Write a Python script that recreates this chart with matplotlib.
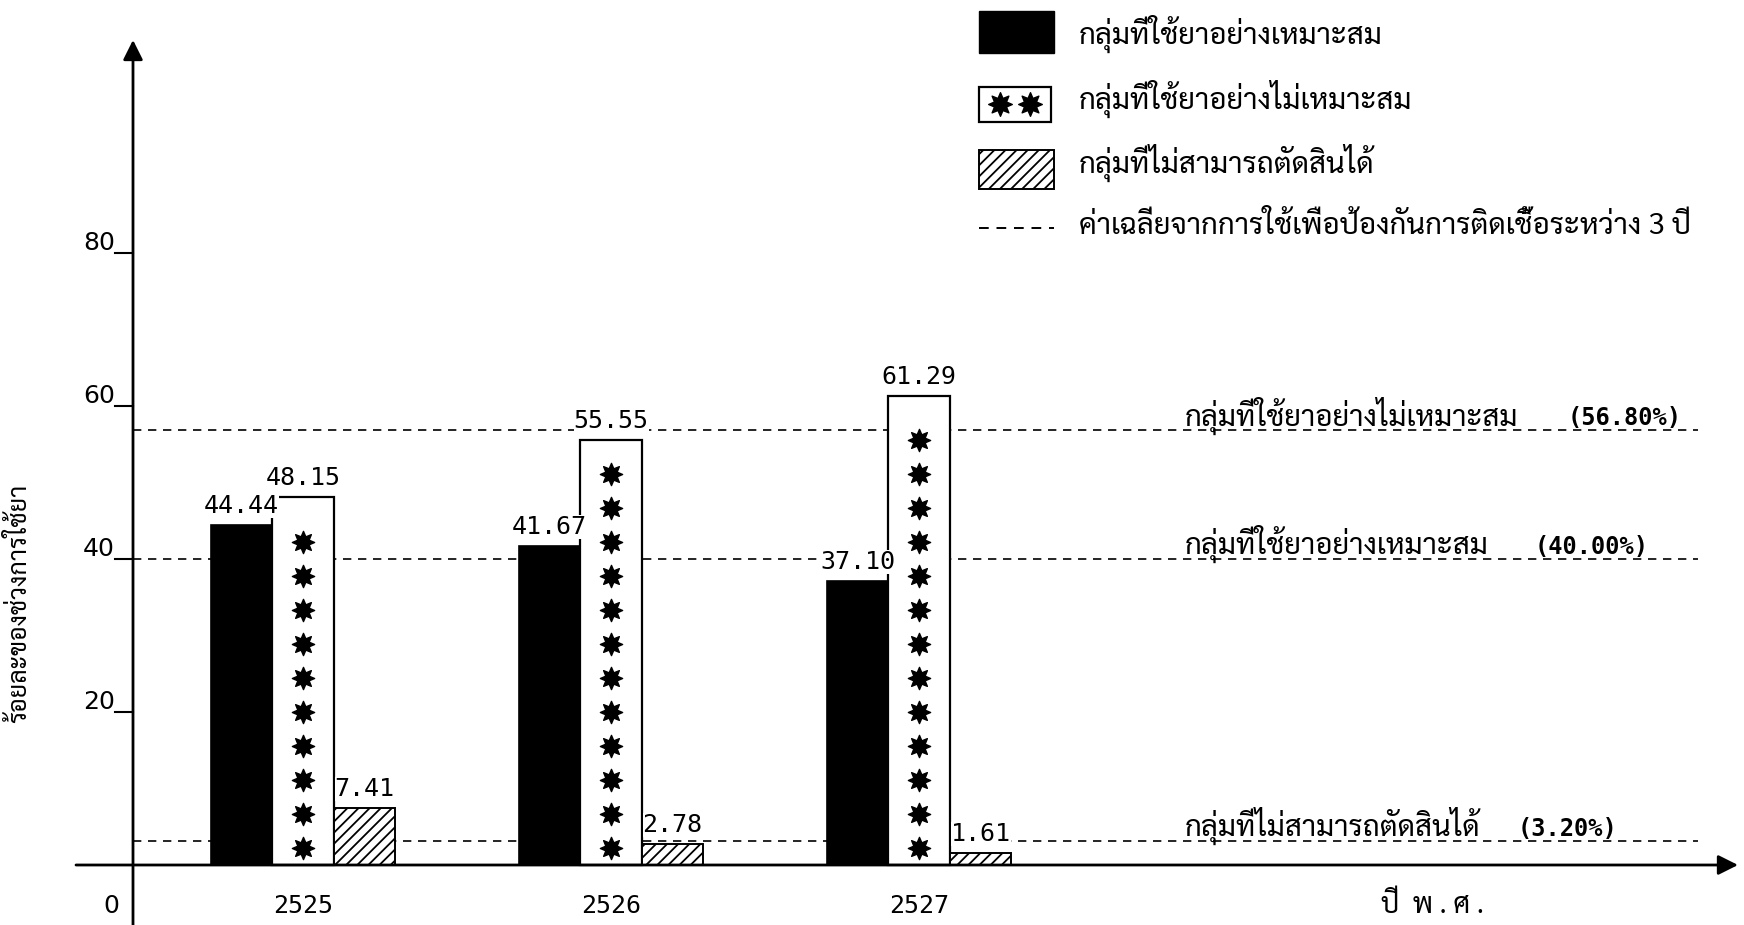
import numpy as np
import matplotlib
matplotlib.use("Agg")
import matplotlib.pyplot as plt
from matplotlib import font_manager
from matplotlib.patches import Rectangle
from matplotlib.lines import Line2D
from matplotlib.path import Path

# data
years = ["2525", "2526", "2527"]
proper = [44.44, 41.67, 37.10]          # กลุ่มที่ใช้ยาอย่างเหมาะสม
improper = [48.15, 55.55, 61.29]        # กลุ่มที่ใช้ยาอย่างไม่เหมาะสม
undecided = [7.41, 2.78, 1.61]          # กลุ่มที่ไม่สามารถตัดสินได้
avg_values = [56.80, 40.00, 3.20]
avg_names = ["กลุ่มที่ใช้ยาอย่างไม่เหมาะสม", "กลุ่มที่ใช้ยาอย่างเหมาะสม", "กลุ่มที่ไม่สามารถตัดสินได้"]
legend_names = ["กลุ่มที่ใช้ยาอย่างเหมาะสม", "กลุ่มที่ใช้ยาอย่างไม่เหมาะสม",
                "กลุ่มที่ไม่สามารถตัดสินได้", "ค่าเฉลี่ยจากการใช้เพื่อป้องกันการติดเชื้อระหว่าง 3 ปี"]
yticks = [20, 40, 60, 80]

# pick a font with Thai glyphs, looped typewriter-ish ones first
names = {f.name for f in font_manager.fontManager.ttflist}
thai = "DejaVu Sans"
for cand in ["Sarabun", "Niramit", "K2D", "Krub", "Thasadith",
             "Noto Sans Thai Looped", "Noto Sans Thai", "Athiti"]:
    if cand in names:
        thai = cand
        break
mono = "DejaVu Sans Mono"

plt.rcParams["hatch.linewidth"] = 1.3

W, H = 1744, 925
fig = plt.figure(figsize=(W / 100, H / 100), dpi=100)
ax = fig.add_axes([0, 0, 1, 1])
ax.axis("off")

# scale the Thai font so the first legend entry is as wide as in the scan
renderer = fig.canvas.get_renderer()
probe = fig.text(0, 0, legend_names[0], fontsize=10, family=thai)
thai_size = min(24, 10 * 306 / probe.get_window_extent(renderer).width)
probe.remove()

# pixel layout: group i centred at x = 303 + 308 i, y = 865 - 7.65 v
gx, g0 = 308.0, 303.0
vy, y0 = 7.65, 865.0
ax.set_xlim(-g0 / gx, (W - g0) / gx)
ax.set_ylim(-(H - y0) / vy, y0 / vy)


def fx(px):
    return px / W


def fy(py):
    return 1 - py / H


# 8 point star like the typewriter asterisks
n = 8
ang = np.linspace(0, 2 * np.pi, 2 * n, endpoint=False) + np.pi / 2
rad = np.where(np.arange(2 * n) % 2 == 0, 1.0, 0.55)
verts = np.column_stack([rad * np.cos(ang), rad * np.sin(ang)])
star = Path(np.vstack([verts, verts[:1]]), closed=True)

x = np.arange(len(years))
w = 0.2
yaxis_x = (133 - g0) / gx
line_end = (1698 - g0) / gx

# average dashed lines
for v in avg_values:
    ax.plot([yaxis_x, line_end], [v, v], color="black", lw=1.2,
            ls=(0, (5, 4)), zorder=1)

ax.bar(x - w, proper, w, color="black", edgecolor="black", lw=1.2, zorder=3)
ax.bar(x, improper, w, color="white", edgecolor="black", lw=1.6, zorder=3)
ax.bar(x + w, undecided, w, color="white", edgecolor="black", lw=1.4,
       hatch="///", zorder=3)

# stars inside the improper bars
for xi, top in zip(x, improper):
    sy = np.arange(2.2, top - 1.5, 4.45)
    ax.plot(np.full(len(sy), xi), sy, ls="none", marker=star,
            ms=16, color="black", zorder=4)

# value labels
for xs, vals in [(x - w, proper), (x, improper), (x + w, undecided)]:
    for xi, v in zip(xs, vals):
        ax.annotate(f"{v:.2f}", (xi, v), xytext=(0, 5), textcoords="offset points",
                    ha="center", va="bottom", fontsize=18, family=mono,
                    color="black", zorder=5,
                    bbox=dict(facecolor="white", edgecolor="none", pad=0))

# axes with arrows
xl = (76 - g0) / gx
xr = (1738 - g0) / gx
ax.annotate("", xy=(xr, 0), xytext=(xl, 0),
            arrowprops=dict(arrowstyle="-|>", lw=2, color="black",
                            mutation_scale=30, shrinkA=0, shrinkB=0))
ytop = (y0 - 40) / vy
ax.annotate("", xy=(yaxis_x, ytop), xytext=(yaxis_x, -(H - y0) / vy),
            arrowprops=dict(arrowstyle="-|>", lw=2, color="black",
                            mutation_scale=30, shrinkA=0, shrinkB=0))

# y ticks drawn like the original: short dash left of the axis
tick_l = (115 - g0) / gx
for t in yticks:
    ax.plot([tick_l, yaxis_x], [t, t], color="black", lw=1.5)
    ax.text(tick_l, t + 0.4, str(t), ha="right", va="baseline", fontsize=18,
            family="DejaVu Sans")
ax.text(fx(111), fy(906), "0", transform=fig.transFigure, ha="center",
        va="center", fontsize=18, family="DejaVu Sans")

for xi, yr in zip(x, years):
    ax.text(xi, -5.3, yr, ha="center", va="center", fontsize=18, family=mono)

# labels on the right of the average lines
pct_x = [1568, 1535, 1518]
for v, nm, px in zip(avg_values, avg_names, pct_x):
    base = fy(y0 - v * vy - 5)
    ax.text(fx(1185), base, nm, transform=fig.transFigure,
            ha="left", va="baseline", fontsize=thai_size, family=thai)
    ax.text(fx(px), base, f"({v:.2f}%)", transform=fig.transFigure,
            ha="left", va="baseline", fontsize=17, family=mono, weight="bold")

ax.text(fx(1432), fy(906), "ปี  พ . ศ .", transform=fig.transFigure, ha="center",
        va="center", fontsize=thai_size * 0.95, family=thai)
ax.text(fx(20), fy(603), "ร้อยละของช่วงการใช้ยา", transform=fig.transFigure,
        ha="center", va="center", rotation=90, fontsize=thai_size * 0.85, family=thai)

# legend, drawn by hand to follow the original layout
tf = fig.transFigure
fig.patches.append(Rectangle((fx(979), fy(53)), fx(75), 42 / H, transform=tf,
                             facecolor="black", edgecolor="black"))
fig.patches.append(Rectangle((fx(979), fy(122)), fx(72), 35 / H, transform=tf,
                             facecolor="white", edgecolor="black", lw=1.6))
fig.lines.append(Line2D([fx(1000), fx(1030)], [fy(104), fy(104)], transform=tf,
                        ls="none", marker=star, ms=17, color="black"))
fig.patches.append(Rectangle((fx(979), fy(189)), fx(75), 39 / H, transform=tf,
                             facecolor="white", edgecolor="black", lw=1.4,
                             hatch="///"))
fig.lines.append(Line2D([fx(979), fx(1054)], [fy(228), fy(228)], transform=tf,
                        color="black", lw=1.4, ls=(0, (5, 4))))
for yy, nm in zip([34, 99, 163, 227], legend_names):
    fig.text(fx(1079), fy(yy), nm, ha="left", va="center", fontsize=thai_size,
             family=thai)

fig.savefig("out.png", dpi=100)
